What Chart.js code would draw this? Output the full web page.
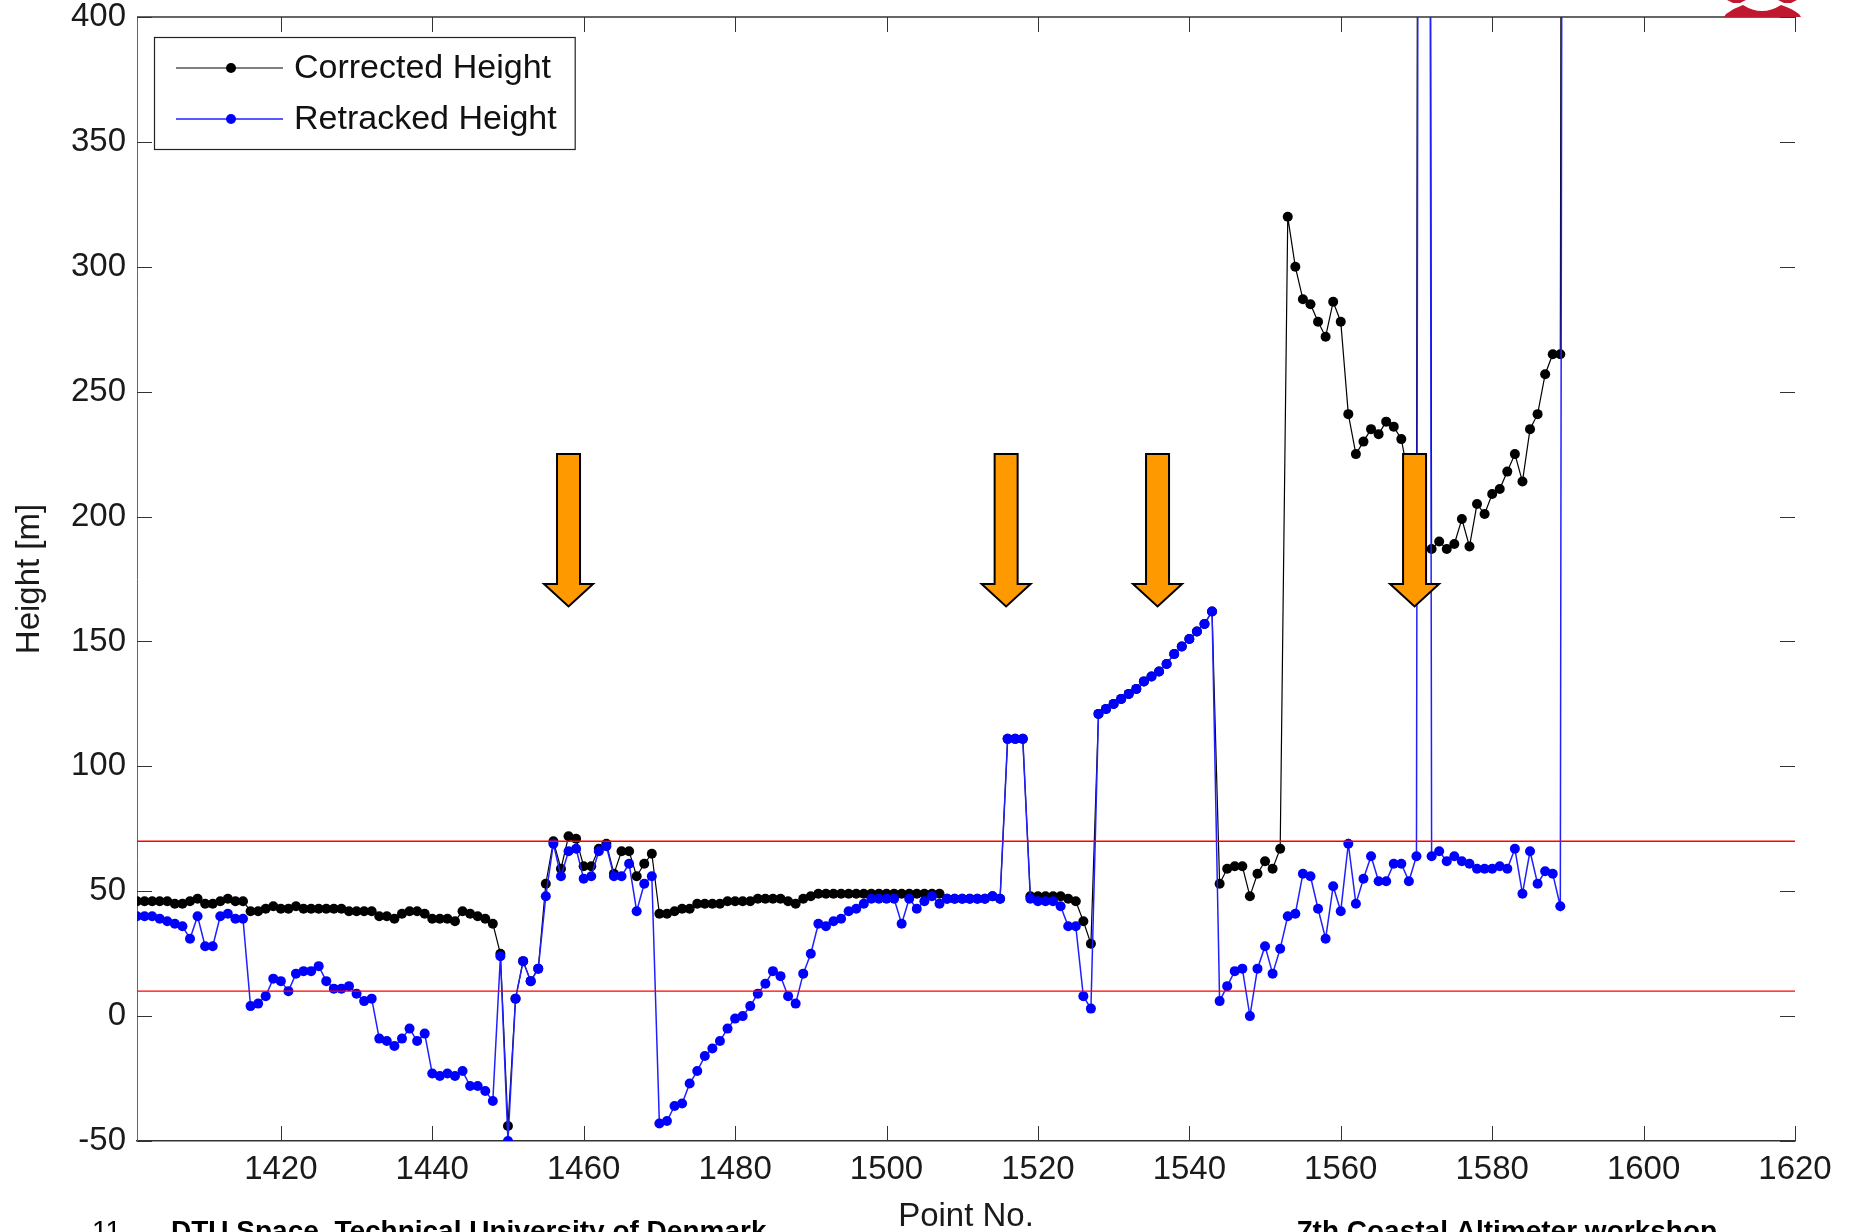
<!DOCTYPE html>
<html>
<head>
<meta charset="utf-8">
<script src="https://cdn.jsdelivr.net/npm/chart.js@4.4.1/dist/chart.umd.min.js"></script>
<style>
  html, body { margin: 0; padding: 0; background: #fff; }
  #wrap { width: 1849px; height: 1232px; }
</style>
</head>
<body>
<div id="wrap"><canvas id="heights" width="1849" height="1232"></canvas></div>
<script>
// ── Along-track heights, one value per point starting at No. 1401 ─────────
// (the two off-scale values are the spikes that leave the top of the plot)
const corrected = [
  46, 46, 46, 46, 46, 45, 45, 46, 47, 45,
  45, 46, 47, 46, 46, 42, 42, 43, 44, 43,
  43, 44, 43, 43, 43, 43, 43, 43, 42, 42,
  42, 42, 40, 40, 39, 41, 42, 42, 41, 39,
  39, 39, 38, 42, 41, 40, 39, 37, 25, -44,
  7, 22, 14, 19, 53, 70, 59, 72, 71, 60,
  60, 67, 69, 57, 66, 66, 56, 61, 65, 41,
  41, 42, 43, 43, 45, 45, 45, 45, 46, 46,
  46, 46, 47, 47, 47, 47, 46, 45, 47, 48,
  49, 49, 49, 49, 49, 49, 49, 49, 49, 49,
  49, 49, 49, 49, 49, 49, 49, 47, 47, 47,
  47, 47, 47, 48, 47, 111, 111, 111, 48, 48,
  48, 48, 48, 47, 46, 38, 29, 121, 123, 125,
  127, 129, 131, 134, 136, 138, 141, 145, 148, 151,
  154, 157, 162, 53, 59, 60, 60, 48, 57, 62,
  59, 67, 320, 300, 287, 285, 278, 272, 286, 278,
  241, 225, 230, 235, 233, 238, 236, 231, 215, 200,
  2000, 187, 190, 187, 189, 199, 188, 205, 201, 209,
  211, 218, 225, 214, 235, 241, 257, 265, 265, 2000
];
const retracked = [
  40, 40, 40, 39, 38, 37, 36, 31, 40, 28,
  28, 40, 41, 39, 39, 4, 5, 8, 15, 14,
  10, 17, 18, 18, 20, 14, 11, 11, 12, 9,
  6, 7, -9, -10, -12, -9, -5, -10, -7, -23,
  -24, -23, -24, -22, -28, -28, -30, -34, 24, -50,
  7, 22, 14, 19, 48, 69, 56, 66, 67, 55,
  56, 66, 68, 56, 56, 61, 42, 53, 56, -43,
  -42, -36, -35, -27, -22, -16, -13, -10, -5, -1,
  0, 4, 9, 13, 18, 16, 8, 5, 17, 25,
  37, 36, 38, 39, 42, 43, 45, 47, 47, 47,
  47, 37, 47, 43, 46, 48, 45, 47, 47, 47,
  47, 47, 47, 48, 47, 111, 111, 111, 47, 46,
  46, 46, 44, 36, 36, 8, 3, 121, 123, 125,
  127, 129, 131, 134, 136, 138, 141, 145, 148, 151,
  154, 157, 162, 6, 12, 18, 19, 0, 19, 28,
  17, 27, 40, 41, 57, 56, 43, 31, 52, 42,
  69, 45, 55, 64, 54, 54, 61, 61, 54, 64,
  2000, 64, 66, 62, 64, 62, 61, 59, 59, 59,
  60, 59, 67, 49, 66, 53, 58, 57, 44, 2000
];
const firstPoint = 1401;
const pointNo = corrected.map((_, i) => firstPoint + i);

const xTicks = [1420, 1440, 1460, 1480, 1500, 1520, 1540, 1560, 1580, 1600, 1620];
const yTicks = [-50, 0, 50, 100, 150, 200, 250, 300, 350, 400];
const limits = [10, 70];

const FONT = '"Liberation Sans", Arial, Helvetica, sans-serif';

const series = vals => vals.map((v, i) => ({ x: pointNo[i], y: v }));
const flatLine = v => [{ x: 1401, y: v }, { x: 1620, y: v }];

// ── Frame, inward ticks, legend, arrows and slide footer ──────────────────
const decorations = {
  id: 'decorations',
  afterDatasetsDraw(chart, args, opts) {
    const { ctx, scales: { x, y } } = chart;
    ctx.save();
    // orange markers pointing at the problem spots
    opts.arrows.forEach(xa => {
      const cx = x.getPixelForValue(xa);
      const top = y.getPixelForValue(225);
      const neck = y.getPixelForValue(173);
      const tip = y.getPixelForValue(164);
      ctx.beginPath();
      ctx.moveTo(cx - 11.5, top);
      ctx.lineTo(cx + 11.5, top);
      ctx.lineTo(cx + 11.5, neck);
      ctx.lineTo(cx + 24.5, neck);
      ctx.lineTo(cx, tip);
      ctx.lineTo(cx - 24.5, neck);
      ctx.lineTo(cx - 11.5, neck);
      ctx.closePath();
      ctx.fillStyle = '#ff9900';
      ctx.fill();
      ctx.lineWidth = 2;
      ctx.strokeStyle = '#000';
      ctx.stroke();
    });
    ctx.restore();
  },
  afterDraw(chart, args, opts) {
    const { ctx, chartArea: a, scales: { x, y } } = chart;
    ctx.save();

    // top edge of the box
    ctx.strokeStyle = '#333';
    ctx.lineWidth = 1.5;
    ctx.beginPath();
    ctx.moveTo(a.left, a.top);
    ctx.lineTo(a.right, a.top);
    ctx.stroke();

    // tick marks point inwards on all four sides
    const tl = 15;
    ctx.lineWidth = 1;
    ctx.beginPath();
    x.ticks.forEach(t => {
      const px = Math.round(x.getPixelForValue(t.value)) + 0.5;
      ctx.moveTo(px, a.bottom); ctx.lineTo(px, a.bottom - tl);
      ctx.moveTo(px, a.top);    ctx.lineTo(px, a.top + tl);
    });
    y.ticks.forEach(t => {
      const py = Math.round(y.getPixelForValue(t.value)) + 0.5;
      ctx.moveTo(a.left, py);  ctx.lineTo(a.left + tl, py);
      ctx.moveTo(a.right, py); ctx.lineTo(a.right - tl, py);
    });
    ctx.stroke();

    // legend box
    const items = chart.data.datasets.filter(d => d.inLegend).reverse();
    const lx = a.left + 17, ly = a.top + 20, rowH = 51;
    ctx.font = `34px ${FONT}`;
    const textW = Math.max(...items.map(d => ctx.measureText(d.label).width));
    const boxW = 140 + textW + 18, boxH = rowH * items.length + 10;
    ctx.fillStyle = '#fff';
    ctx.fillRect(lx, ly, boxW, boxH);
    ctx.strokeStyle = '#222';
    ctx.lineWidth = 1.2;
    ctx.strokeRect(lx + 0.5, ly + 0.5, boxW, boxH);
    items.forEach((d, i) => {
      const cy = ly + 31 + i * rowH;
      ctx.strokeStyle = d.borderColor;
      ctx.lineWidth = d.borderWidth;
      ctx.beginPath();
      ctx.moveTo(lx + 22, cy); ctx.lineTo(lx + 129, cy);
      ctx.stroke();
      ctx.fillStyle = d.backgroundColor;
      ctx.beginPath();
      ctx.arc(lx + 77, cy, 5, 0, Math.PI * 2);
      ctx.fill();
      ctx.fillStyle = '#111';
      ctx.textBaseline = 'middle';
      ctx.textAlign = 'left';
      ctx.fillText(d.label, lx + 140, cy + 1);
    });

    // slide footer, cut by the bottom edge
    ctx.fillStyle = '#000';
    ctx.textBaseline = 'alphabetic';
    ctx.font = `28px ${FONT}`;
    ctx.fillText('11', 92, 1240);
    ctx.font = `bold 28px ${FONT}`;
    ctx.fillText('DTU Space, Technical University of Denmark', 171, 1240);
    ctx.fillText('7th Coastal Altimeter workshop', 1297, 1240);

    // corner of the DTU logo
    ctx.fillStyle = '#c0182f';
    ctx.beginPath();
    ctx.moveTo(1724, 17);
    ctx.lineTo(1726, 14);
    ctx.quadraticCurveTo(1734, 8, 1743, 5);
    ctx.quadraticCurveTo(1762, 17, 1781, 5);
    ctx.quadraticCurveTo(1791, 8, 1799, 14);
    ctx.lineTo(1801, 17);
    ctx.closePath();
    ctx.fill();
    ctx.beginPath();
    ctx.moveTo(1727, 0); ctx.lineTo(1746, 0); ctx.lineTo(1740, 3); ctx.lineTo(1733, 3);
    ctx.closePath();
    ctx.fill();
    ctx.beginPath();
    ctx.moveTo(1778, 0); ctx.lineTo(1797, 0); ctx.lineTo(1791, 3); ctx.lineTo(1784, 3);
    ctx.closePath();
    ctx.fill();

    ctx.restore();
  }
};

new Chart(document.getElementById('heights'), {
  type: 'line',
  data: {
    datasets: [
      { label: 'lower', data: flatLine(limits[0]), borderColor: '#ff0000', borderWidth: 1.4, pointRadius: 0 },
      { label: 'upper', data: flatLine(limits[1]), borderColor: '#ff0000', borderWidth: 1.4, pointRadius: 0 },
      { label: 'Retracked Height', data: series(retracked), inLegend: true,
        borderColor: '#2020ff', backgroundColor: '#0000ff', borderWidth: 1.5,
        pointRadius: 5, pointBorderWidth: 0, pointHoverRadius: 5 },
      { label: 'Corrected Height', data: series(corrected), inLegend: true,
        borderColor: '#000000', backgroundColor: '#000000', borderWidth: 1.2,
        pointRadius: 5, pointBorderWidth: 0, pointHoverRadius: 5 },
    ]
  },
  options: {
    responsive: false, animation: false, devicePixelRatio: 1,
    layout: { padding: { left: 0, right: 54, top: 17, bottom: 0 } },
    plugins: {
      legend: { display: false },
      tooltip: { enabled: false },
      decorations: { arrows: [1458, 1515.8, 1535.8, 1569.75] }
    },
    scales: {
      x: {
        type: 'linear', min: 1401, max: 1620,
        afterBuildTicks: s => { s.ticks = xTicks.map(v => ({ value: v })); },
        afterFit: s => { s.height = 91; },
        grid: { display: false, drawTicks: false },
        border: { display: true, color: '#333', width: 1.5 },
        ticks: { font: { family: FONT, size: 33, lineHeight: 1 }, color: '#1a1a1a',
                 padding: 12, maxRotation: 0, autoSkip: false, callback: v => String(v) },
        title: { display: true, text: 'Point No.', color: '#1a1a1a',
                 font: { family: FONT, size: 33, lineHeight: 1 }, padding: { top: 0, bottom: -1 } }
      },
      y: {
        min: -50, max: 400,
        afterBuildTicks: s => { s.ticks = yTicks.map(v => ({ value: v })); },
        // fixed gutter; the top label is allowed to run up to the canvas edge
        afterFit: s => { s.width = 137; s.paddingTop = 0; s.paddingBottom = 0; },
        grid: { display: false, drawTicks: false },
        border: { display: true, color: '#666', width: 1 },
        ticks: { font: { family: FONT, size: 33, lineHeight: 1 }, color: '#1a1a1a', padding: 11,
                 callback: v => String(v) },
        title: { display: true, text: 'Height [m]', color: '#1a1a1a',
                 font: { family: FONT, size: 33, lineHeight: 1 }, padding: { top: 13.5, bottom: 0 } }
      }
    }
  },
  plugins: [decorations]
});
</script>
</body>
</html>
